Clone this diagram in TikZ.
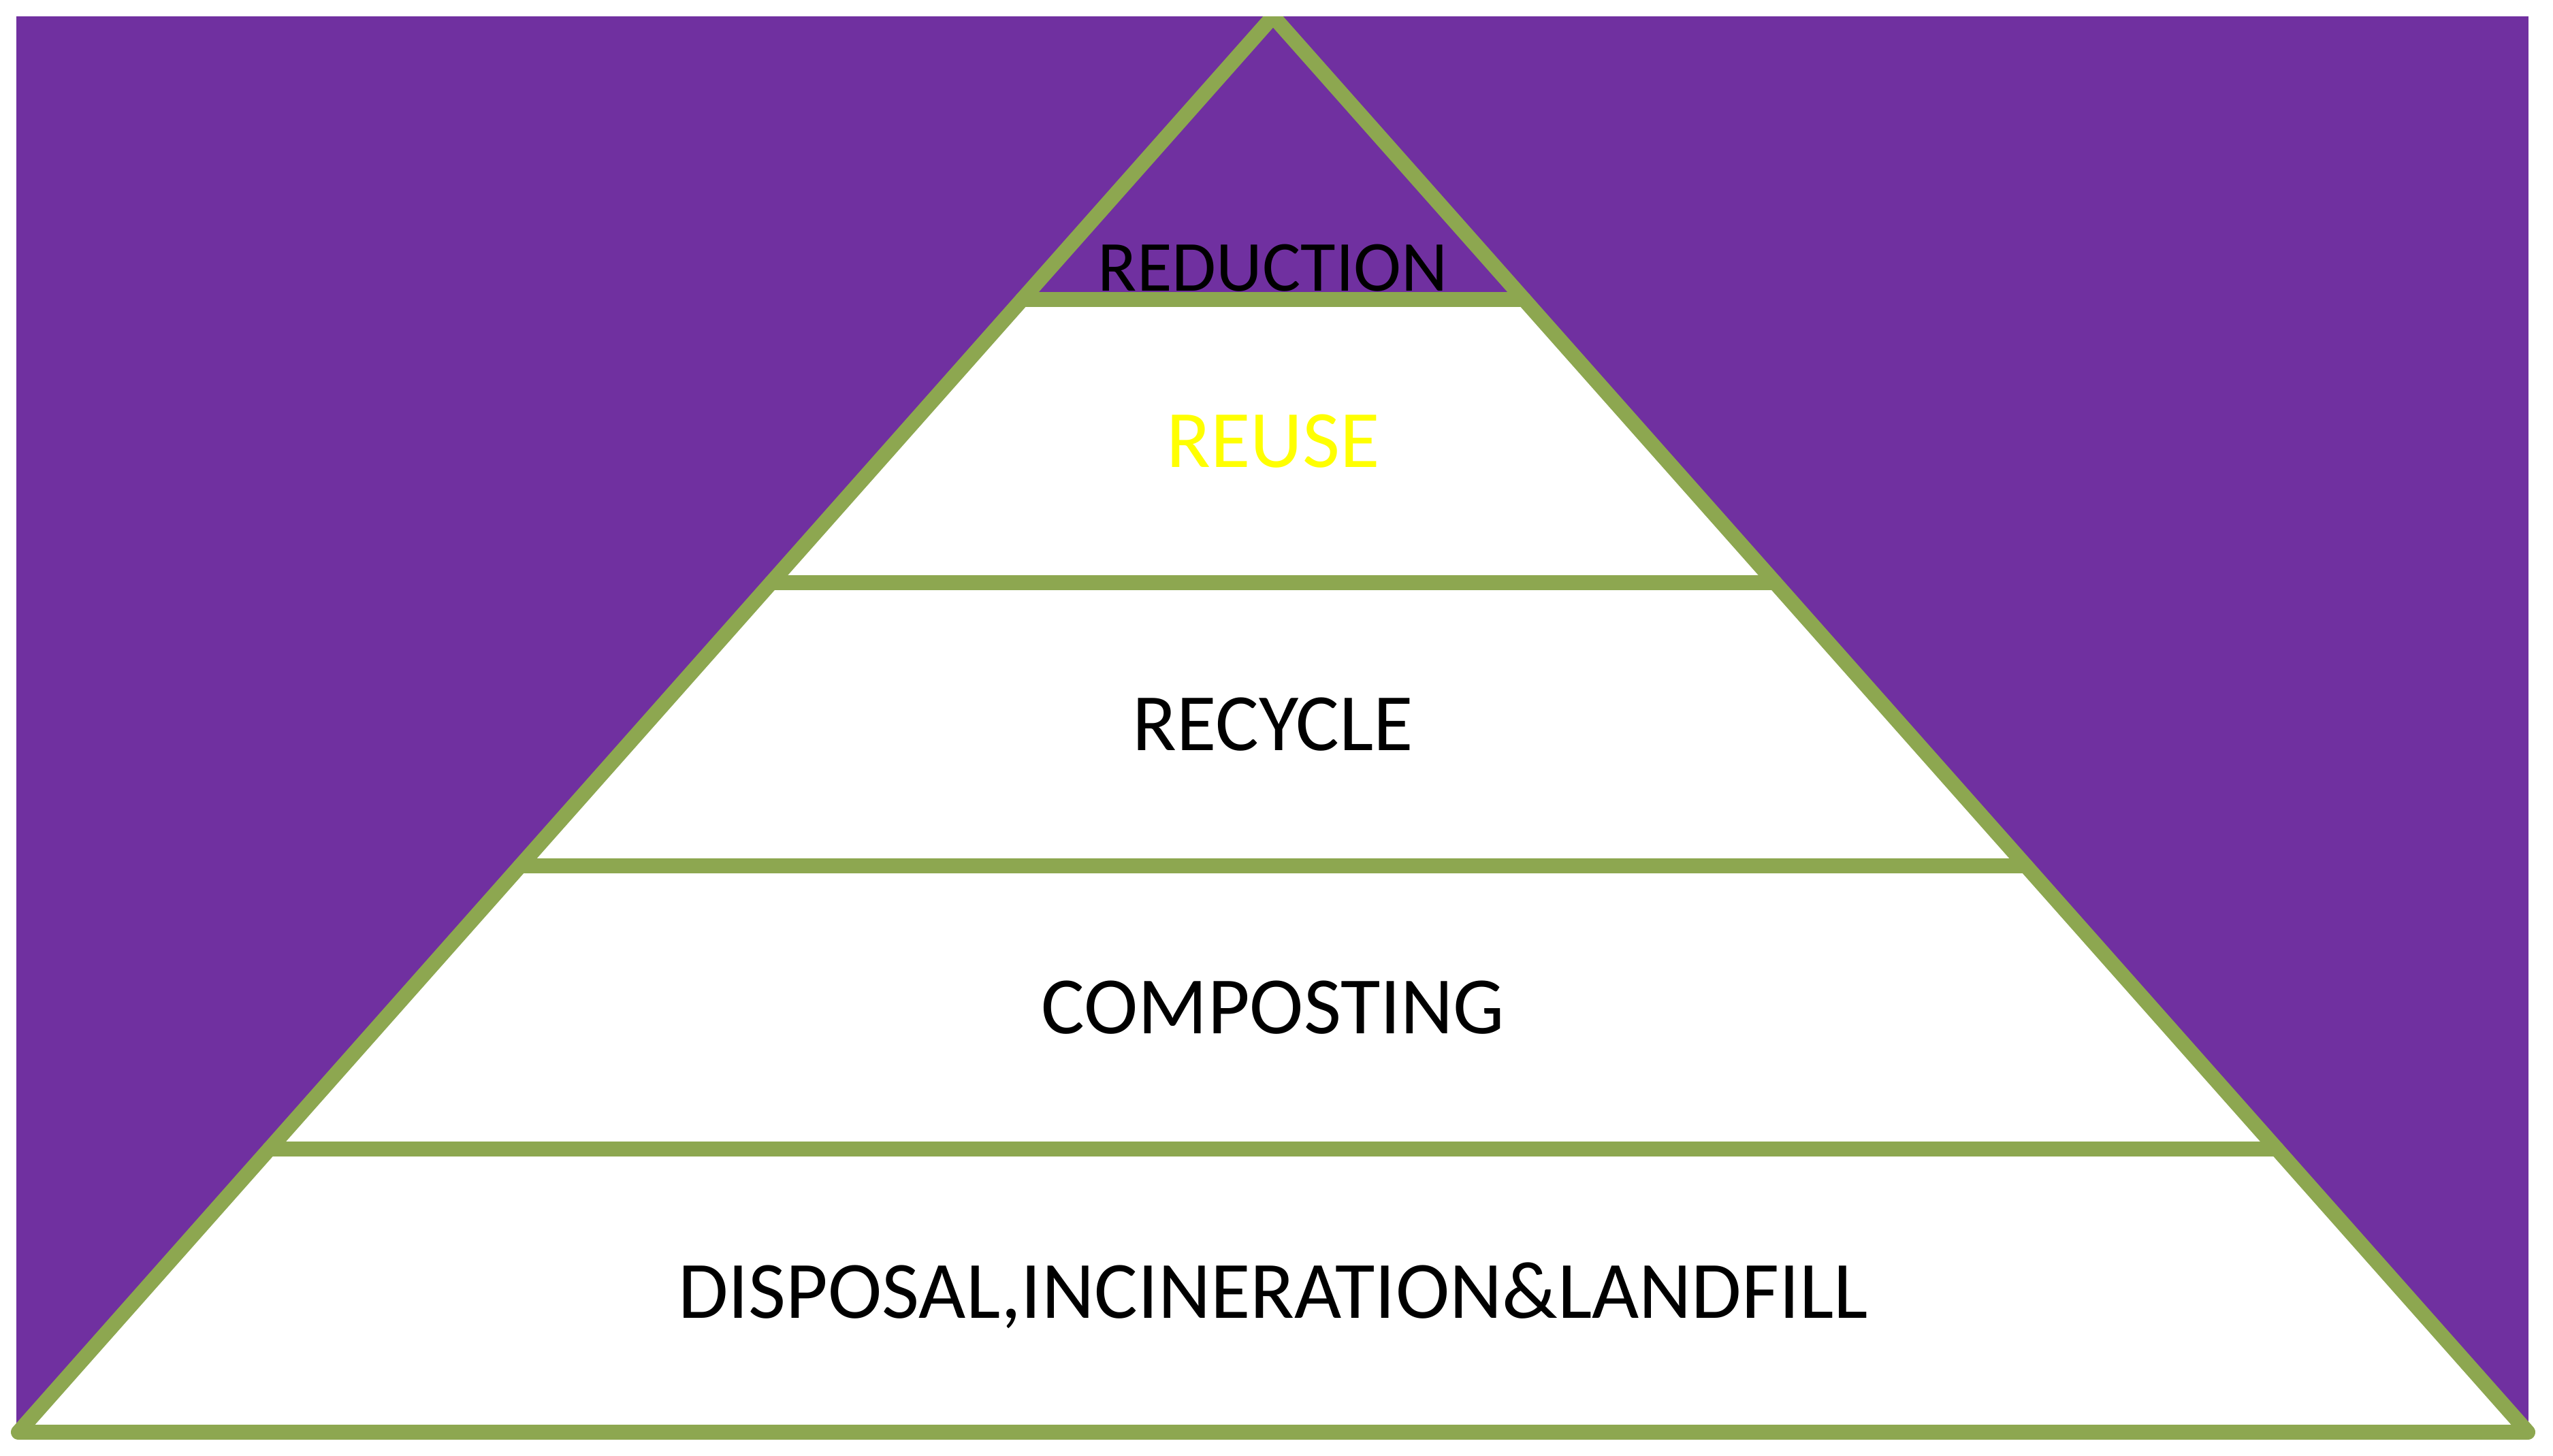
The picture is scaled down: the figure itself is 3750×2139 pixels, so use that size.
\documentclass[tikz,border=0pt]{standalone}
\usepackage{fontspec}
\setmainfont{Carlito}
\usetikzlibrary{calc}

\begin{document}
\begin{tikzpicture}[x=0.01cm,y=-0.01cm]
	\definecolor{wpurple}{RGB}{112,48,160}
	\definecolor{wgreen}{RGB}{141,167,80}
	\definecolor{wyellow}{RGB}{255,255,0}
	\tikzstyle{edge}=[draw=wgreen,line width=0.22cm,line join=round,line cap=round]
	\tikzstyle{tier}=[font=\fontsize{34}{40}\selectfont,inner sep=0pt,text depth=0pt]
	\useasboundingbox (0,0) rectangle (3750,2139);
	\fill[wpurple] (24,24) rectangle (3714,2104);
	\coordinate (apex) at (1870,24);
	\coordinate (bl) at (27,2104);
	\coordinate (br) at (3713,2104);
	\coordinate (bm) at ($(bl)!0.5!(br)$);
	\fill[white] (apex) -- (bl) -- (br) -- cycle;
	\fill[wpurple] (apex) -- ($(apex)!0.2!(bl)$) -- ($(apex)!0.2!(br)$) -- cycle;
	\foreach \t/\n in {0.2/a,0.4/b,0.6/c,0.8/d}
		\draw[edge] ($(apex)!\t!(bl)$) coordinate (l\n) -- ($(apex)!\t!(br)$) coordinate (r\n);
	\begin{scope}
		\clip (0,24) rectangle (3750,2139);
		\draw[edge] (apex) -- (bl) -- (br) -- cycle;
	\end{scope}
	\node[tier,anchor=base,font=\fontsize{30}{36}\selectfont] (reduction) at ($(la)!0.5!(ra)+(0,-12)$) {REDUCTION};
	\node[tier,text=wyellow] (reuse) at ($(apex)!0.3!(bm)$) {REUSE};
	\node[tier] (recycle) at ($(apex)!0.5!(bm)$) {RECYCLE};
	\node[tier] (composting) at ($(apex)!0.7!(bm)$) {COMPOSTING};
	\node[tier] (disposal) at ($(apex)!0.9!(bm)$) {DISPOSAL,INCINERATION\&LANDFILL};
\end{tikzpicture}
\end{document}
